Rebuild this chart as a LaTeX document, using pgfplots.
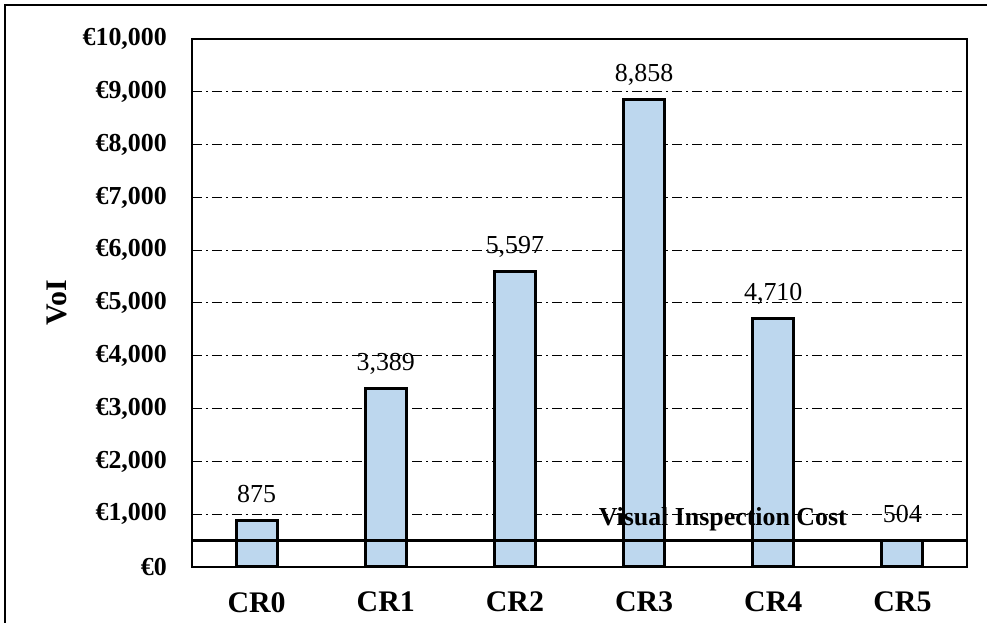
\documentclass[border=0pt]{standalone}
\usepackage{fontspec}
\setmainfont{Liberation Serif}
\usepackage{pgfplots}
\pgfplotsset{compat=1.18}
\definecolor{barblue}{RGB}{189,215,238}
\begin{document}
\begin{tikzpicture}
\begin{axis}[
  name=ax,
  scale only axis, width=775bp, height=528bp,
  xmin=-0.5, xmax=5.5, ymin=0, ymax=10000,
  scaled y ticks=false,
  xtick={0,1,2,3,4,5}, xticklabels={CR0,CR1,CR2,CR3,CR4,CR5},
  ytick={0,1000,2000,3000,4000,5000,6000,7000,8000,9000,10000},
  yticklabels={{€0},{€1,000},{€2,000},{€3,000},{€4,000},{€5,000},{€6,000},{€7,000},{€8,000},{€9,000},{€10,000}},
  major tick length=0pt,
  tick style={draw=none},
  ymajorgrids,
  grid style={black, line width=1bp, dash pattern=on 10bp off 4bp on 2bp off 4bp},
  axis line style={line width=2bp},
  xticklabel style={font=\fontsize{30}{30}\selectfont\bfseries, anchor=north, inner sep=0pt, yshift=-25bp},
  yticklabel style={font=\fontsize{26}{26}\selectfont\bfseries, anchor=east, inner sep=0pt, xshift=-25bp},
  ylabel={VoI},
  every axis y label/.style={at={(axis description cs:-0.1742,0.5)}, rotate=90, anchor=center, font=\fontsize{30}{30}\selectfont\bfseries},
  /pgf/number format/assume math mode=true,
  /pgf/number format/1000 sep={,},
]
\addplot[ybar, bar width=0.317, fill=barblue, draw=black, line width=3bp,
  nodes near coords,
  every node near coord/.append style={font=\fontsize{26}{26}\selectfont, anchor=base, inner sep=0pt, yshift=18bp, draw=none, fill=none}]
  coordinates {(0,875) (1,3389) (2,5597) (3,8858) (4,4710) (5,504)};
\addplot[black, line width=2.5bp] coordinates {(-0.5,500) (5.5,500)};
\node[font=\fontsize{26}{26}\selectfont\bfseries, anchor=base, inner sep=0pt] at (axis cs:3.61,795) {Visual Inspection Cost};
\end{axis}
\path[use as bounding box] ([xshift=-192bp,yshift=-56bp]ax.south west) rectangle ([xshift=795bp,yshift=567bp]ax.south west);
\draw[line width=1.5bp] ([xshift=-187bp,yshift=-80bp]ax.south west) -- ([xshift=-187bp,yshift=562bp]ax.south west) -- ([xshift=820bp,yshift=562bp]ax.south west);
\end{tikzpicture}
\end{document}
